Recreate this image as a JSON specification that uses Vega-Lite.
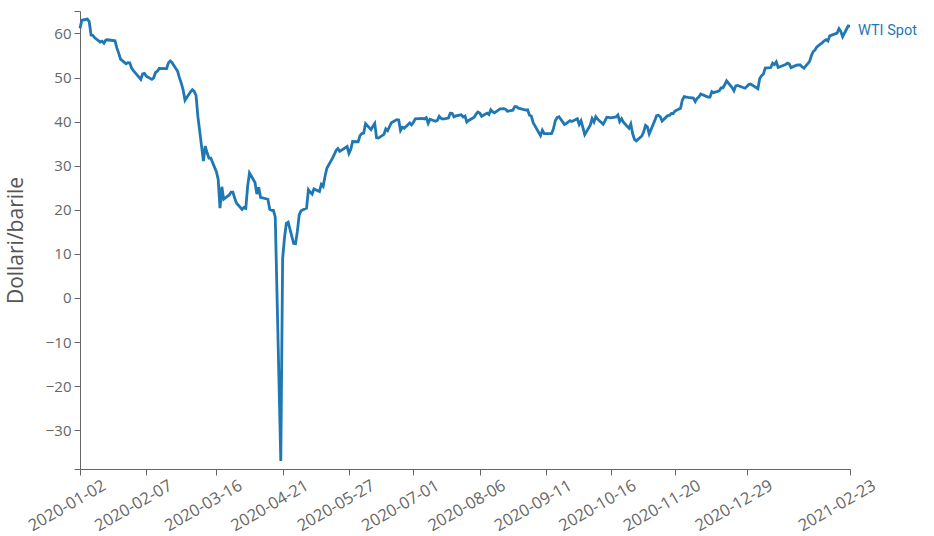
{
"$schema": "https://vega.github.io/schema/vega-lite/v6.json",
"width": 770, "height": 458,
"autosize": "none",
"padding": {"left": 80, "top": 11, "right": 84, "bottom": 67},
"config": {"view": {"stroke": null}, "font": "Open Sans"},
"data": {"values": [
{"d":"2020-01-02","v":61.17},{"d":"2020-01-03","v":63.00},{"d":"2020-01-06","v":63.27},{"d":"2020-01-07","v":62.70},{"d":"2020-01-08","v":59.65},{"d":"2020-01-09","v":59.56},{"d":"2020-01-10","v":59.02},{"d":"2020-01-13","v":58.04},{"d":"2020-01-14","v":58.23},{"d":"2020-01-15","v":57.81},{"d":"2020-01-16","v":58.52},{"d":"2020-01-17","v":58.58},{"d":"2020-01-21","v":58.34},{"d":"2020-01-22","v":56.73},{"d":"2020-01-23","v":55.55},{"d":"2020-01-24","v":54.18},{"d":"2020-01-27","v":53.13},{"d":"2020-01-28","v":53.39},{"d":"2020-01-29","v":53.35},{"d":"2020-01-30","v":52.17},{"d":"2020-01-31","v":51.58},
{"d":"2020-02-03","v":50.10},{"d":"2020-02-04","v":49.59},{"d":"2020-02-05","v":50.81},{"d":"2020-02-06","v":50.94},{"d":"2020-02-07","v":50.31},{"d":"2020-02-10","v":49.59},{"d":"2020-02-11","v":49.94},{"d":"2020-02-12","v":51.16},{"d":"2020-02-13","v":51.42},{"d":"2020-02-14","v":52.07},{"d":"2020-02-18","v":52.03},{"d":"2020-02-19","v":53.32},{"d":"2020-02-20","v":53.78},{"d":"2020-02-21","v":53.38},{"d":"2020-02-24","v":51.43},{"d":"2020-02-25","v":49.92},{"d":"2020-02-26","v":48.72},{"d":"2020-02-27","v":47.17},{"d":"2020-02-28","v":44.83},
{"d":"2020-03-02","v":46.78},{"d":"2020-03-03","v":47.23},{"d":"2020-03-04","v":46.85},{"d":"2020-03-05","v":45.93},{"d":"2020-03-06","v":41.14},{"d":"2020-03-09","v":31.05},{"d":"2020-03-10","v":34.47},{"d":"2020-03-11","v":32.93},{"d":"2020-03-12","v":31.73},{"d":"2020-03-13","v":31.72},{"d":"2020-03-16","v":28.69},{"d":"2020-03-17","v":26.95},{"d":"2020-03-18","v":20.37},{"d":"2020-03-19","v":25.22},{"d":"2020-03-20","v":22.39},{"d":"2020-03-23","v":23.37},{"d":"2020-03-24","v":24.00},{"d":"2020-03-25","v":24.01},{"d":"2020-03-26","v":22.60},{"d":"2020-03-27","v":21.51},{"d":"2020-03-30","v":20.09},{"d":"2020-03-31","v":20.51},
{"d":"2020-04-01","v":20.31},{"d":"2020-04-02","v":25.32},{"d":"2020-04-03","v":28.34},{"d":"2020-04-06","v":26.21},{"d":"2020-04-07","v":23.56},{"d":"2020-04-08","v":25.10},{"d":"2020-04-09","v":22.82},{"d":"2020-04-13","v":22.39},{"d":"2020-04-14","v":20.10},{"d":"2020-04-15","v":19.87},{"d":"2020-04-16","v":19.87},{"d":"2020-04-17","v":18.31},{"d":"2020-04-20","v":-36.98},{"d":"2020-04-21","v":8.91},{"d":"2020-04-22","v":13.64},{"d":"2020-04-23","v":16.94},{"d":"2020-04-24","v":17.18},{"d":"2020-04-27","v":12.34},{"d":"2020-04-28","v":12.29},{"d":"2020-04-29","v":15.10},{"d":"2020-04-30","v":18.84},
{"d":"2020-05-01","v":19.78},{"d":"2020-05-04","v":20.39},{"d":"2020-05-05","v":24.56},{"d":"2020-05-06","v":23.99},{"d":"2020-05-07","v":23.55},{"d":"2020-05-08","v":24.74},{"d":"2020-05-11","v":24.17},{"d":"2020-05-12","v":25.77},{"d":"2020-05-13","v":25.29},{"d":"2020-05-14","v":27.56},{"d":"2020-05-15","v":29.44},{"d":"2020-05-18","v":31.65},{"d":"2020-05-19","v":32.49},{"d":"2020-05-20","v":33.47},{"d":"2020-05-21","v":33.92},{"d":"2020-05-22","v":33.25},{"d":"2020-05-26","v":34.35},{"d":"2020-05-27","v":32.81},{"d":"2020-05-28","v":33.71},{"d":"2020-05-29","v":35.49},
{"d":"2020-06-01","v":35.44},{"d":"2020-06-02","v":36.83},{"d":"2020-06-03","v":37.29},{"d":"2020-06-04","v":37.41},{"d":"2020-06-05","v":39.55},{"d":"2020-06-08","v":38.19},{"d":"2020-06-09","v":38.94},{"d":"2020-06-10","v":39.60},{"d":"2020-06-11","v":36.34},{"d":"2020-06-12","v":36.26},{"d":"2020-06-15","v":37.12},{"d":"2020-06-16","v":38.38},{"d":"2020-06-17","v":37.96},{"d":"2020-06-18","v":38.84},{"d":"2020-06-19","v":39.75},{"d":"2020-06-22","v":40.46},{"d":"2020-06-23","v":40.37},{"d":"2020-06-24","v":38.01},{"d":"2020-06-25","v":38.72},{"d":"2020-06-26","v":38.49},{"d":"2020-06-29","v":39.70},{"d":"2020-06-30","v":39.27},
{"d":"2020-07-01","v":39.86},{"d":"2020-07-02","v":40.63},{"d":"2020-07-06","v":40.73},{"d":"2020-07-07","v":40.60},{"d":"2020-07-08","v":40.90},{"d":"2020-07-09","v":39.62},{"d":"2020-07-10","v":40.55},{"d":"2020-07-13","v":40.10},{"d":"2020-07-14","v":40.29},{"d":"2020-07-15","v":41.20},{"d":"2020-07-16","v":40.75},{"d":"2020-07-17","v":40.59},{"d":"2020-07-20","v":40.81},{"d":"2020-07-21","v":41.92},{"d":"2020-07-22","v":41.90},{"d":"2020-07-23","v":41.07},{"d":"2020-07-24","v":41.29},{"d":"2020-07-27","v":41.54},{"d":"2020-07-28","v":41.04},{"d":"2020-07-29","v":41.27},{"d":"2020-07-30","v":39.92},{"d":"2020-07-31","v":40.27},
{"d":"2020-08-03","v":41.01},{"d":"2020-08-04","v":41.70},{"d":"2020-08-05","v":42.19},{"d":"2020-08-06","v":41.95},{"d":"2020-08-07","v":41.22},{"d":"2020-08-10","v":41.94},{"d":"2020-08-11","v":41.61},{"d":"2020-08-12","v":42.67},{"d":"2020-08-13","v":42.24},{"d":"2020-08-14","v":42.01},{"d":"2020-08-17","v":42.89},{"d":"2020-08-18","v":42.89},{"d":"2020-08-19","v":42.93},{"d":"2020-08-20","v":42.82},{"d":"2020-08-21","v":42.35},{"d":"2020-08-24","v":42.61},{"d":"2020-08-25","v":43.39},{"d":"2020-08-26","v":43.40},{"d":"2020-08-27","v":43.04},{"d":"2020-08-28","v":42.96},{"d":"2020-08-31","v":42.62},
{"d":"2020-09-01","v":42.69},{"d":"2020-09-02","v":41.46},{"d":"2020-09-03","v":41.27},{"d":"2020-09-04","v":39.77},{"d":"2020-09-08","v":36.81},{"d":"2020-09-09","v":38.04},{"d":"2020-09-10","v":37.29},{"d":"2020-09-11","v":37.30},{"d":"2020-09-14","v":37.28},{"d":"2020-09-15","v":38.34},{"d":"2020-09-16","v":40.19},{"d":"2020-09-17","v":40.93},{"d":"2020-09-18","v":41.10},{"d":"2020-09-21","v":39.37},{"d":"2020-09-22","v":39.55},{"d":"2020-09-23","v":39.92},{"d":"2020-09-24","v":40.23},{"d":"2020-09-25","v":40.04},{"d":"2020-09-28","v":40.65},{"d":"2020-09-29","v":39.38},{"d":"2020-09-30","v":40.19},
{"d":"2020-10-01","v":38.71},{"d":"2020-10-02","v":37.05},{"d":"2020-10-05","v":39.22},{"d":"2020-10-06","v":40.66},{"d":"2020-10-07","v":39.91},{"d":"2020-10-08","v":41.12},{"d":"2020-10-09","v":40.56},{"d":"2020-10-12","v":39.43},{"d":"2020-10-13","v":40.19},{"d":"2020-10-14","v":41.02},{"d":"2020-10-15","v":40.99},{"d":"2020-10-16","v":40.88},{"d":"2020-10-19","v":41.07},{"d":"2020-10-20","v":41.52},{"d":"2020-10-21","v":40.02},{"d":"2020-10-22","v":40.67},{"d":"2020-10-23","v":39.87},{"d":"2020-10-26","v":38.50},{"d":"2020-10-27","v":39.48},{"d":"2020-10-28","v":37.26},{"d":"2020-10-29","v":35.97},{"d":"2020-10-30","v":35.64},
{"d":"2020-11-02","v":36.75},{"d":"2020-11-03","v":37.70},{"d":"2020-11-04","v":39.16},{"d":"2020-11-05","v":38.82},{"d":"2020-11-06","v":37.21},{"d":"2020-11-09","v":40.23},{"d":"2020-11-10","v":41.34},{"d":"2020-11-11","v":41.45},{"d":"2020-11-12","v":41.11},{"d":"2020-11-13","v":40.12},{"d":"2020-11-16","v":41.36},{"d":"2020-11-17","v":41.41},{"d":"2020-11-18","v":41.84},{"d":"2020-11-19","v":41.82},{"d":"2020-11-20","v":42.41},{"d":"2020-11-23","v":43.05},{"d":"2020-11-24","v":44.91},{"d":"2020-11-25","v":45.71},{"d":"2020-11-27","v":45.53},{"d":"2020-11-30","v":45.34},
{"d":"2020-12-01","v":44.56},{"d":"2020-12-02","v":45.27},{"d":"2020-12-03","v":45.63},{"d":"2020-12-04","v":46.26},{"d":"2020-12-07","v":45.74},{"d":"2020-12-08","v":45.57},{"d":"2020-12-09","v":45.56},{"d":"2020-12-10","v":46.81},{"d":"2020-12-11","v":46.57},{"d":"2020-12-14","v":46.98},{"d":"2020-12-15","v":47.64},{"d":"2020-12-16","v":47.67},{"d":"2020-12-17","v":48.37},{"d":"2020-12-18","v":49.24},{"d":"2020-12-21","v":47.74},{"d":"2020-12-22","v":47.02},{"d":"2020-12-23","v":48.12},{"d":"2020-12-24","v":48.23},{"d":"2020-12-28","v":47.59},{"d":"2020-12-29","v":48.00},{"d":"2020-12-30","v":48.40},{"d":"2020-12-31","v":48.52},
{"d":"2021-01-04","v":47.47},{"d":"2021-01-05","v":49.78},{"d":"2021-01-06","v":50.45},{"d":"2021-01-07","v":50.80},{"d":"2021-01-08","v":52.14},{"d":"2021-01-11","v":52.27},{"d":"2021-01-12","v":53.26},{"d":"2021-01-13","v":52.94},{"d":"2021-01-14","v":53.56},{"d":"2021-01-15","v":52.29},{"d":"2021-01-19","v":52.96},{"d":"2021-01-20","v":53.27},{"d":"2021-01-21","v":53.12},{"d":"2021-01-22","v":52.25},{"d":"2021-01-25","v":52.80},{"d":"2021-01-26","v":52.85},{"d":"2021-01-27","v":52.88},{"d":"2021-01-28","v":52.40},{"d":"2021-01-29","v":52.15},
{"d":"2021-02-01","v":53.62},{"d":"2021-02-02","v":54.89},{"d":"2021-02-03","v":55.91},{"d":"2021-02-04","v":56.25},{"d":"2021-02-05","v":56.96},{"d":"2021-02-08","v":57.94},{"d":"2021-02-09","v":58.33},{"d":"2021-02-10","v":58.59},{"d":"2021-02-11","v":58.28},{"d":"2021-02-12","v":59.47},{"d":"2021-02-16","v":60.08},{"d":"2021-02-17","v":61.09},{"d":"2021-02-18","v":60.50},{"d":"2021-02-19","v":59.26},{"d":"2021-02-22","v":61.70},{"d":"2021-02-23","v":61.69}
]},
"encoding": {
  "x": {"field": "d", "type": "temporal",
    "scale": {"type": "utc", "domain": [{"year": 2020, "month": 1, "date": 2, "utc": true}, {"year": 2021, "month": 2, "date": 23, "utc": true}]},
    "axis": {"title": null, "grid": false,
      "values": [
        {"year": 2020, "month": 1, "date": 2, "utc": true},
        {"year": 2020, "month": 2, "date": 7, "utc": true},
        {"year": 2020, "month": 3, "date": 16, "utc": true},
        {"year": 2020, "month": 4, "date": 21, "utc": true},
        {"year": 2020, "month": 5, "date": 27, "utc": true},
        {"year": 2020, "month": 7, "date": 1, "utc": true},
        {"year": 2020, "month": 8, "date": 6, "utc": true},
        {"year": 2020, "month": 9, "date": 11, "utc": true},
        {"year": 2020, "month": 10, "date": 16, "utc": true},
        {"year": 2020, "month": 11, "date": 20, "utc": true},
        {"year": 2020, "month": 12, "date": 29, "utc": true},
        {"year": 2021, "month": 2, "date": 23, "utc": true}
      ],
      "labelExpr": "utcFormat(datum.value, '%Y-%m-%d')",
      "labelAngle": -30, "labelAlign": "right", "labelBaseline": "top",
      "labelOffset": 20, "labelPadding": 2,
      "labelFontSize": 16.5, "labelColor": "#666666", "labelFont": "Open Sans",
      "labelOverlap": false, "labelFlush": false, "labelBound": false,
      "tickSize": 6, "tickColor": "#666666", "domainColor": "#666666"}
  },
  "y": {"field": "v", "type": "quantitative",
    "scale": {"domain": [-38.8, 65.1], "nice": false, "zero": false},
    "axis": {"title": "Dollari/barile", "grid": false,
      "values": [-38.8, -30, -20, -10, 0, 10, 20, 30, 40, 50, 60, 65.1],
      "labelExpr": "datum.value % 10 == 0 ? datum.label : ''",
      "labelFontSize": 15, "labelColor": "#666666", "labelFont": "Open Sans",
      "labelPadding": 3, "labelFlush": false, "labelOverlap": false,
      "tickSize": 6, "tickColor": "#666666", "domainColor": "#666666",
      "titleFont": "Open Sans", "titleFontSize": 21, "titleFontWeight": "normal", "titleColor": "#555555", "titlePadding": 19}
  }
},
"layer": [
  {"mark": {"type": "line", "color": "#1f77b4", "strokeWidth": 2.8}},
  {"transform": [{"filter": "utcFormat(datum.d, '%Y-%m-%d') == '2021-02-23'"}],
   "mark": {"type": "text", "align": "left", "baseline": "middle", "dx": 8, "dy": 5, "font": "Roboto", "fontSize": 14.5, "color": "#1f77b4"},
   "encoding": {"text": {"value": "WTI Spot"}}}
]
}
